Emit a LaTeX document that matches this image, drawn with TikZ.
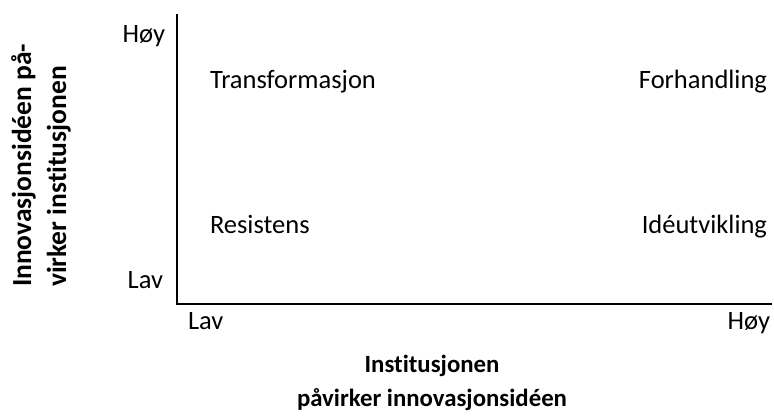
\documentclass[tikz,border=0pt]{standalone}
\usepackage{fontspec}
\setmainfont{Carlito}[Ligatures=CommonOff]
\begin{document}
\begin{tikzpicture}[x=1pt,y=-1pt,
  every node/.style={inner sep=0pt,outer sep=0pt,font=\fontsize{26.5}{31}\selectfont},
  axtitle/.style={font=\fontsize{24.8}{34}\selectfont\bfseries},
  ytitle/.style={font=\fontsize{27.5}{35}\selectfont\bfseries,rotate=90,anchor=base west},
  axis/.style={line width=1.6pt}]
\useasboundingbox (0,0) rectangle (774,419);
% axes
\coordinate (top) at (177,14);
\coordinate (origin) at (177,304);
\coordinate (right) at (772,304);
\draw[axis] (top) -- (origin) -- (right);
% scale labels
\node[anchor=base east] (yhigh) at (165,43) {Høy};
\node[anchor=base east] (ylow) at (163,289) {Lav};
\node[anchor=base west] (xlow) at (188,330) {Lav};
\node[anchor=base east] (xhigh) at (770,330) {Høy};
% quadrant labels
\node[anchor=base west] (trans) at (210,89) {Transformasjon};
\node[anchor=base west] (resist) at (210,234) {Resistens};
\node[anchor=base east] (forh) at (767,89) {Forhandling};
\node[anchor=base east] (ide) at (767,234) {Idéutvikling};
% axis titles
\node[axtitle,anchor=base] (xtitleA) at (432,373) {Institusjonen};
\node[axtitle,anchor=base] (xtitleB) at (432,407) {påvirker innovasjonsidéen};
\node[ytitle] (ytitleA) at (31,287) {Innovasjonsidéen på-};
\node[ytitle] (ytitleB) at (66,287) {virker institusjonen};
\end{tikzpicture}
\end{document}
